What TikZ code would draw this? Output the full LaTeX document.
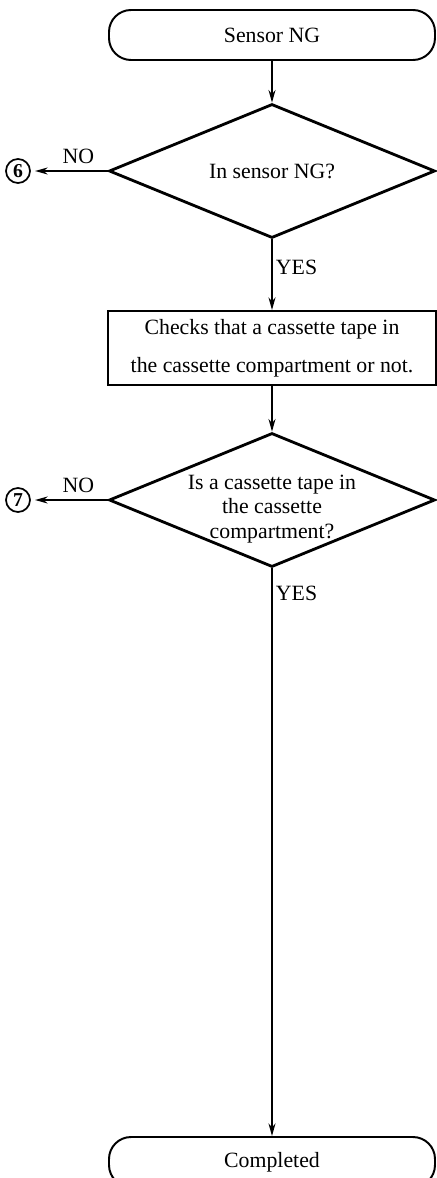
\documentclass[tikz,border=0pt]{standalone}
\usepackage{fontspec}
\setmainfont{Liberation Serif}
\usepackage{tikz}
\usetikzlibrary{arrows.meta,shapes.geometric}

\tikzset{
  term/.style={draw,line width=1.4pt,rounded corners=0.55cm,minimum width=8.15cm,minimum height=1.25cm,font=\fontsize{15.5}{17}\selectfont},
  decide/.style={draw,diamond,line width=2pt,inner sep=0pt,minimum width=8.15cm,minimum height=3.35cm},
  procbox/.style={draw,line width=1.4pt,minimum width=8.2cm,minimum height=1.85cm,align=center,font=\fontsize{15.5}{27}\selectfont},
  conn/.style={draw,circle,line width=1.2pt,minimum size=0.6cm,inner sep=0pt,font=\fontsize{14}{14}\selectfont\bfseries},
  lbl/.style={font=\fontsize{15.5}{17}\selectfont}
}

\begin{document}
\begin{tikzpicture}[>={Stealth[length=9pt,width=5pt]},line width=1pt]
\useasboundingbox (0,0) rectangle (10.9,-29.45);
\node[term] (start) at (6.8,-0.875) {Sensor NG};
\node[decide] (dec1) at (6.8,-4.275) {};
\node[lbl] (q1) at (dec1) {In sensor NG?};
\node[procbox] (chk) at (6.8,-8.7) {Checks that a cassette tape in\\the cassette compartment or not.};
\node[decide] (dec2) at (6.8,-12.5) {};
\node[lbl,align=center,font=\fontsize{15.5}{17.5}\selectfont] (q2) at (6.8,-12.72) {Is a cassette tape in\\the cassette\\compartment?};
\node[term] (done) at (6.8,-29.05) {Completed};
\node[conn] (c6) at (0.45,-4.275) {6};
\node[conn] (c7) at (0.45,-12.5) {7};
% flow
\draw[->] (start) -- (dec1);
\draw[->] (dec1) -- (chk) node[lbl,pos=0.4,right=-1pt] (y1) {YES};
\draw[->] (chk) -- (dec2);
\draw[->] (dec2) -- (done) node[lbl,pos=0.044,right=-1pt] (y2) {YES};
\draw[->,shorten >=3pt] (dec1) -- (c6) node[lbl,pos=0.38,above=1pt] (n1) {NO};
\draw[->,shorten >=3pt] (dec2) -- (c7) node[lbl,pos=0.38,above=1pt] (n2) {NO};
\end{tikzpicture}
\end{document}
